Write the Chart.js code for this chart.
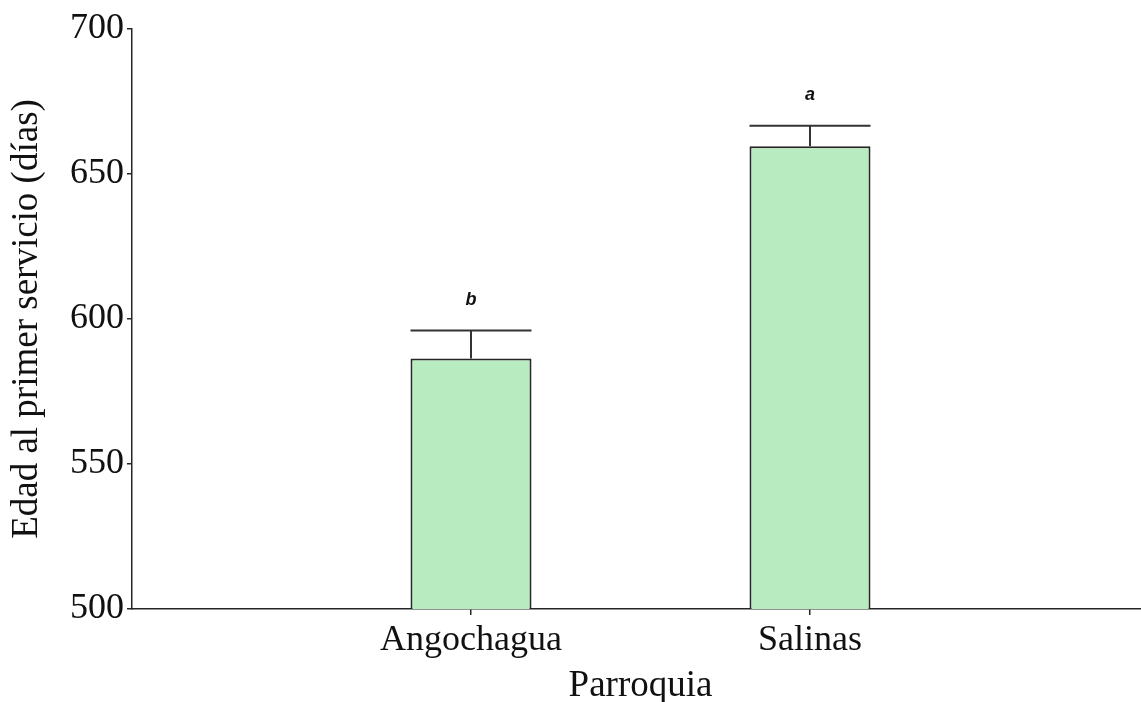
<!DOCTYPE html>
<html>
<head>
<meta charset="utf-8">
<script src="https://cdn.jsdelivr.net/npm/chart.js@4.4.1/dist/chart.umd.min.js"></script>
<style>
  html, body { margin: 0; padding: 0; background: #fff; overflow: hidden; }
  /* the plot runs a little past the right edge of the picture, as in the original */
  #wrap { width: 1153px; height: 702px; position: relative; }
</style>
</head>
<body>
<div id="wrap"><canvas id="myChart"></canvas></div>
<script>
// categories (empty slots at both ends keep the bars at 1/3 and 2/3 of the axis)
const categories = ["", "Angochagua", "Salinas", ""];
const means = [null, 586.4, 659.6, null];
const errors = [null, 9.6, 7.0, null];
const letters = [null, "b", "a", null];
const yTicks = [500, 550, 600, 650, 700];

const serif = "'Liberation Serif', 'Times New Roman', serif";
const ink = "#262626";

// draws the error bars and the significance letters
const errorBarPlugin = {
  id: "errorBars",
  afterDatasetsDraw(chart) {
    const ctx = chart.ctx;
    const meta = chart.getDatasetMeta(0);
    const y = chart.scales.y;
    meta.data.forEach((bar, i) => {
      if (means[i] == null) return;
      const half = bar.width / 2;
      const top = y.getPixelForValue(means[i] + errors[i]);
      const base = y.getPixelForValue(means[i]);
      ctx.save();
      ctx.strokeStyle = "#333";
      ctx.lineWidth = 2;
      ctx.beginPath();
      ctx.moveTo(bar.x, base);
      ctx.lineTo(bar.x, top);
      ctx.moveTo(bar.x - half, top);
      ctx.lineTo(bar.x + half, top);
      ctx.stroke();
      ctx.fillStyle = "#111";
      ctx.font = "italic bold 18px 'Liberation Sans', Arial, sans-serif";
      ctx.textAlign = "center";
      ctx.textBaseline = "alphabetic";
      ctx.fillText(letters[i], bar.x, top - 26);
      ctx.restore();
    });
  }
};

new Chart(document.getElementById("myChart"), {
  type: "bar",
  data: {
    labels: categories,
    datasets: [
      {
        data: means,
        backgroundColor: "#b8ecc0",
        borderColor: ink,
        borderWidth: 2,
        barPercentage: 1,
        categoryPercentage: 0.357,
      },
    ],
  },
  options: {
    responsive: true,
    maintainAspectRatio: false,
    animation: false,
    layout: { padding: { top: 29, right: 0, bottom: 0, left: 0 } },
    plugins: {
      legend: { display: false },
      tooltip: { enabled: false },
    },
    scales: {
      x: {
        offset: false,
        grid: {
          offset: false,
          drawOnChartArea: false,
          tickLength: 6,
          color: (c) => (categories[c.index] ? ink : "rgba(0,0,0,0)"),
          lineWidth: 1.5,
        },
        border: { color: ink, width: 1.5 },
        ticks: {
          autoSkip: false,
          maxRotation: 0,
          padding: 4,
          color: "#111",
          font: { family: serif, size: 36 },
        },
        title: {
          display: true,
          text: "Parroquia",
          color: "#111",
          font: { family: serif, size: 37, lineHeight: 0.8 },
          padding: { top: 0, bottom: 1 },
        },
        afterFit: (s) => { s.height = 93; },
      },
      y: {
        min: 500,
        max: 700,
        afterBuildTicks: (s) => { s.ticks = yTicks.map((v) => ({ value: v })); },
        grid: {
          drawOnChartArea: false,
          tickLength: 5,
          color: ink,
          lineWidth: 1.5,
        },
        border: { color: ink, width: 1.5 },
        ticks: {
          padding: 3,
          color: "#111",
          font: { family: serif, size: 36 },
        },
        title: {
          display: true,
          text: "Edad al primer servicio (días)",
          color: "#111",
          font: { family: serif, size: 37, lineHeight: 1.2 },
          padding: { top: 5, bottom: 0 },
        },
        afterFit: (s) => { s.width = 132; },
      },
    },
  },
  plugins: [errorBarPlugin],
});
</script>
</body>
</html>
